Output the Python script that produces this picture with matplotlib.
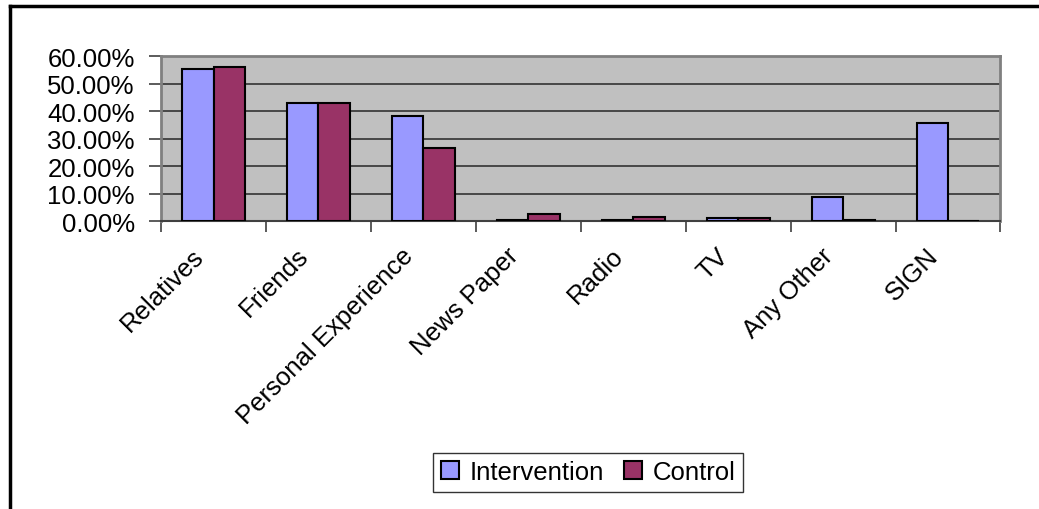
import numpy as np
import matplotlib
matplotlib.use("Agg")
import matplotlib.pyplot as plt
from matplotlib.lines import Line2D
from matplotlib.ticker import FuncFormatter
from matplotlib.transforms import ScaledTranslation

# Data
categories = ["Relatives", "Friends", "Personal Experience", "News Paper",
              "Radio", "TV", "Any Other", "SIGN"]
intervention = [0.553, 0.429, 0.382, 0.004, 0.003, 0.012, 0.088, 0.355]
control = [0.559, 0.429, 0.265, 0.027, 0.013, 0.012, 0.003, 0.0]

plt.rcParams["font.family"] = ["Liberation Sans", "DejaVu Sans"]

fig = plt.figure(figsize=(10.39, 5.10), dpi=100)
ax = fig.add_axes([0.155, 0.5647, 0.8079, 0.3235])
ax.set_facecolor("#C0C0C0")

x = np.arange(len(categories))
w = 0.3
ax.bar(x - w / 2, intervention, w, color="#9999FF", edgecolor="black",
       linewidth=1.5, label="Intervention", zorder=3)
ax.bar(x + w / 2, control, w, color="#993366", edgecolor="black",
       linewidth=1.5, label="Control", zorder=3)

ax.set_xlim(-0.5, len(categories) - 0.5)
ax.set_ylim(0, 0.6)
ax.set_yticks(np.arange(0, 0.61, 0.1))
ax.yaxis.set_major_formatter(FuncFormatter(lambda v, p: f"{v * 100:.2f}%"))
ax.grid(axis="y", color="#333333", linewidth=1.2, zorder=1)

# category boundaries as ticks, labels at centres
ax.set_xticks(np.arange(-0.5, len(categories), 1.0))
ax.set_xticklabels([])
ax.set_xticks(x, minor=True)
ax.set_xticklabels(categories, minor=True, rotation=45, ha="right",
                   va="center", rotation_mode="anchor", fontsize=18.5)
ax.tick_params(axis="x", which="minor", length=0, pad=22)
ax.tick_params(axis="x", which="major", length=8, color="#404040", width=1.2)
ax.tick_params(axis="y", length=9, color="#404040", width=1.2,
               labelsize=18.5, pad=10)
shift = ScaledTranslation(-10 / 72, 0, fig.dpi_scale_trans)
for lab in ax.get_xticklabels(minor=True):
    lab.set_transform(lab.get_transform() + shift)

for s in ["top", "right", "left"]:
    ax.spines[s].set_color("#808080")
    ax.spines[s].set_linewidth(2)
ax.spines["bottom"].set_color("#404040")
ax.spines["bottom"].set_linewidth(1.5)

leg = fig.legend(loc="center", bbox_to_anchor=(0.566, 0.0716), ncol=2,
                 frameon=True, fancybox=False, fontsize=18.5,
                 handlelength=0.7, handleheight=0.7, handletextpad=0.4,
                 columnspacing=0.8, borderpad=0.3)
leg.get_frame().set_edgecolor("black")
leg.get_frame().set_linewidth(1)

# outer chart frame (top and left edges visible)
fig.add_artist(Line2D([10 / 1039, 1], [1 - 7 / 510, 1 - 7 / 510],
                      transform=fig.transFigure, color="black", linewidth=2.5))
fig.add_artist(Line2D([10 / 1039, 10 / 1039], [0, 1 - 7 / 510],
                      transform=fig.transFigure, color="black", linewidth=2.5))

fig.savefig("out.png", dpi=100)
